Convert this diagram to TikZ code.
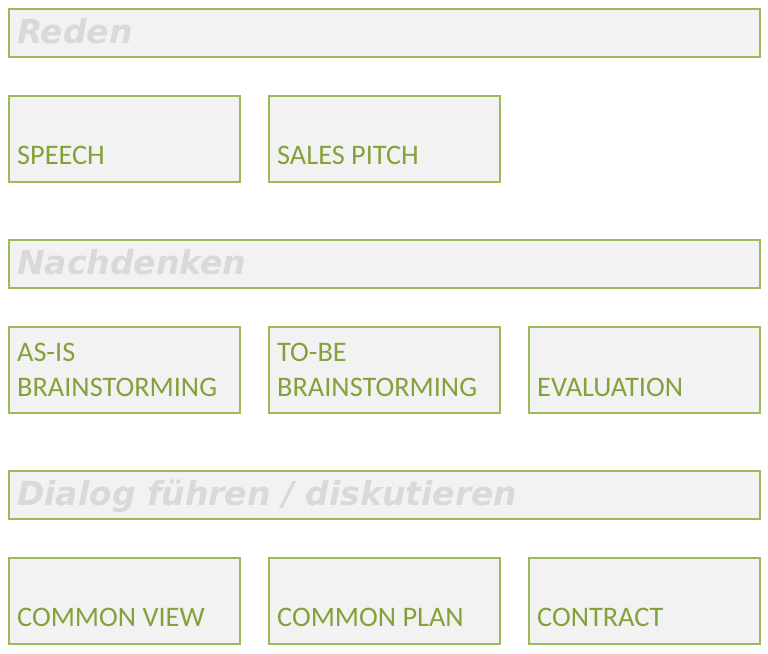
\documentclass[tikz,border=0pt]{standalone}
\usepackage{fontspec}
\setmainfont{Carlito}
\newfontfamily\hdrfont{DejaVu Sans}
\definecolor{bordergreen}{HTML}{9BBB59}
\definecolor{textgreen}{HTML}{84A23A}
\definecolor{boxfill}{HTML}{F2F2F2}
\definecolor{hdrgray}{HTML}{D9D9D9}
\begin{document}
\begin{tikzpicture}[x=1pt,y=-1pt,
  hdrbar/.style={draw=bordergreen,fill=boxfill,line width=2pt,anchor=north west,minimum width=751pt,minimum height=48pt,inner sep=0pt},
  itembox/.style={draw=bordergreen,fill=boxfill,line width=2pt,anchor=north west,minimum width=231pt,minimum height=86pt,inner sep=0pt},
  hdrtext/.style={anchor=base west,inner sep=0pt,text=hdrgray,font=\hdrfont\bfseries\itshape\fontsize{33}{38}\selectfont},
  lbl/.style={anchor=base west,inner sep=0pt,text=textgreen,font=\fontsize{28.3}{35}\selectfont,align=left}
]
\useasboundingbox (0,0) rectangle (768,653);
% headers
\node[hdrbar] (h1) at (8,8) {};
\node[hdrbar] (h2) at (8,239) {};
\node[hdrbar] (h3) at (8,470) {};
\node[hdrtext] (h1t) at (17,43) {Reden};
\node[hdrtext] (h2t) at (17,274) {Nachdenken};
\node[hdrtext] (h3t) at (17,505) {Dialog führen / diskutieren};
% row 1
\node[itembox] (a1) at (8,95) {};
\node[itembox] (a2) at (268,95) {};
\node[lbl] (a1t) at (17,164) {SPEECH};
\node[lbl] (a2t) at (277,164) {SALES PITCH};
% row 2
\node[itembox] (b1) at (8,326) {};
\node[itembox] (b2) at (268,326) {};
\node[itembox] (b3) at (528,326) {};
\node[lbl] (b1t) at (17,361) {AS-IS};
\node[lbl] (b1u) at (17,396) {BRAINSTORMING};
\node[lbl] (b2t) at (277,361) {TO-BE};
\node[lbl] (b2u) at (277,396) {BRAINSTORMING};
\node[lbl] (b3t) at (537,396) {EVALUATION};
% row 3
\node[itembox] (c1) at (8,557) {};
\node[itembox] (c2) at (268,557) {};
\node[itembox] (c3) at (528,557) {};
\node[lbl] (c1t) at (17,626) {COMMON VIEW};
\node[lbl] (c2t) at (277,626) {COMMON PLAN};
\node[lbl] (c3t) at (537,626) {CONTRACT};
\end{tikzpicture}
\end{document}
